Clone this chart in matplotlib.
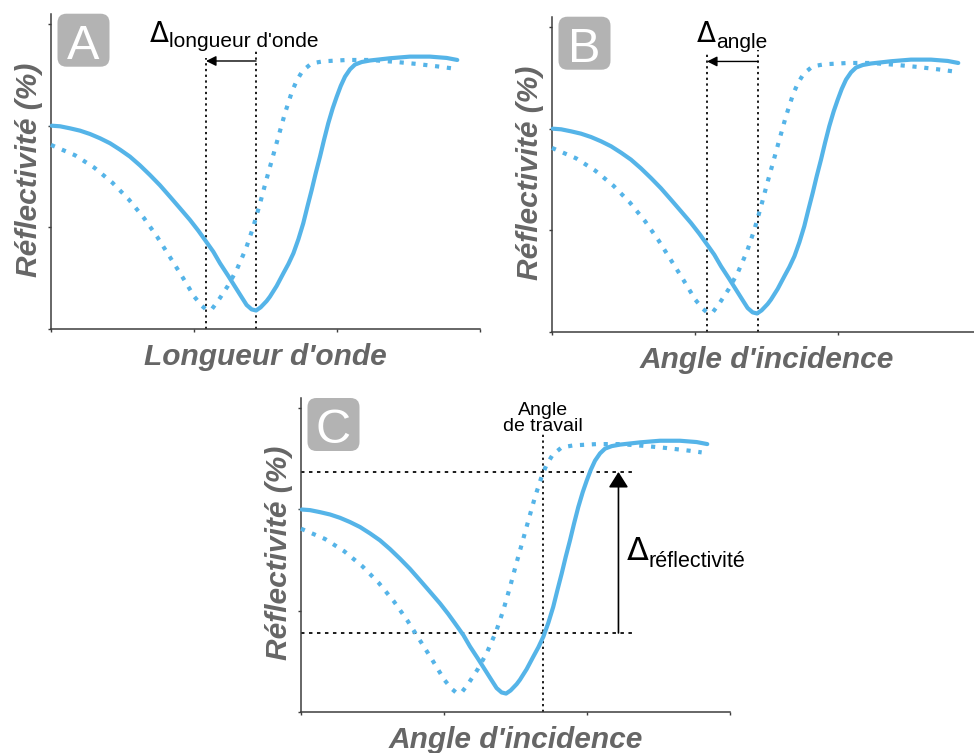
import matplotlib
matplotlib.use("Agg")
import matplotlib.pyplot as plt
from matplotlib.patches import FancyBboxPatch
from matplotlib.transforms import IdentityTransform

plt.rcParams['font.family'] = ['Liberation Sans', 'DejaVu Sans']

# ---------------- data ----------------
solid_x = [0.005, 0.063, 0.133, 0.203, 0.273, 0.343, 0.413, 0.483, 0.552, 0.622,
           0.692, 0.762, 0.832, 0.902, 0.972, 1.030, 1.077, 1.135, 1.182, 1.240,
           1.287, 1.334, 1.368, 1.403, 1.434, 1.466, 1.508, 1.531, 1.578, 1.625,
           1.660, 1.695, 1.730, 1.764, 1.793, 1.823, 1.851, 1.881, 1.909, 1.939,
           1.970, 1.998, 2.026, 2.056, 2.091, 2.126, 2.173, 2.231, 2.371, 2.510,
           2.650, 2.767, 2.841]
solid_y = [1.999, 1.993, 1.973, 1.950, 1.917, 1.875, 1.826, 1.763, 1.695, 1.609,
           1.514, 1.413, 1.301, 1.187, 1.072, 0.967, 0.875, 0.760, 0.646, 0.521,
           0.416, 0.311, 0.236, 0.193, 0.182, 0.213, 0.275, 0.318, 0.423, 0.548,
           0.639, 0.744, 0.882, 1.039, 1.203, 1.367, 1.531, 1.694, 1.858, 2.023,
           2.170, 2.284, 2.389, 2.481, 2.553, 2.600, 2.625, 2.640, 2.662, 2.678,
           2.678, 2.665, 2.645]

dotted_x = [0.0, 0.168, 0.303, 0.429, 0.545, 0.650, 0.743, 0.830, 0.918, 1.002,
            1.054, 1.089, 1.124, 1.170, 1.235, 1.298, 1.364, 1.415, 1.462, 1.503,
            1.548, 1.592, 1.636, 1.685, 1.718, 1.760, 1.823, 1.904, 2.068, 2.231,
            2.394, 2.557, 2.720, 2.802]
dotted_y = [1.810, 1.708, 1.586, 1.439, 1.272, 1.091, 0.905, 0.711, 0.514, 0.318,
            0.229, 0.187, 0.194, 0.280, 0.420, 0.580, 0.793, 1.006, 1.236, 1.452,
            1.678, 1.901, 2.121, 2.334, 2.442, 2.540, 2.612, 2.632, 2.645, 2.645,
            2.628, 2.606, 2.579, 2.563]

panel_letters = ["A", "B", "C"]
x_titles = ["Longueur d'onde", "Angle d'incidence", "Angle d'incidence"]
y_title = "Réflectivité (%)"
delta_subscripts = ["longueur d'onde", "angle", "réflectivité"]
working_angle_label = ["Angle", "de travail"]

# shift markers (data units)
min_before = [1.434, 1.441]
min_after = [1.084, 1.084]
working_angle = 1.69
refl_before = 0.78
refl_after = 2.37

# ---------------- styling ----------------
BLUE = "#55b4e8"
GREY = "#666666"
BOX = "#b3b3b3"
AXC = "#3d3d3d"
PX = 0.72  # points per pixel at 100 dpi
DELTA_FONT = ['DejaVu Sans']

W, H = 974, 753
fig = plt.figure(figsize=(W / 100, H / 100), dpi=100)


def px_axes(left, bottom, width, height):
    return fig.add_axes([left / W, 1 - bottom / H, width / W, height / H])


axA = px_axes(51, 329, 429, 315.3)
axB = px_axes(552, 332, 429, 315.3)
axC = px_axes(301, 712, 429, 314)
axes = [axA, axB, axC]

dot_black_v = dict(color="black", lw=1.25, linestyle=(0, (1.3, 2.0)), dash_capstyle="butt", zorder=2)
dot_black_h = dict(color="black", lw=1.25, linestyle=(0, (2.0, 2.6)), dash_capstyle="butt", zorder=2)

for ax, letter, xt in zip(axes, panel_letters, x_titles):
    ax.set_xlim(0, 3)
    ax.set_ylim(0, 3.1)
    ax.set_xticks([0, 1, 2, 3])
    ax.set_yticks([0, 1, 2, 3])
    ax.set_xticklabels([])
    ax.set_yticklabels([])
    ax.tick_params(direction="out", length=2.5, width=1, color=AXC)
    for s in ["top", "right"]:
        ax.spines[s].set_visible(False)
    for s in ["left", "bottom"]:
        ax.spines[s].set_color(AXC)
        ax.spines[s].set_linewidth(1.1)
    ax.patch.set_alpha(0)

    ax.plot(solid_x, solid_y, color=BLUE, lw=3, solid_capstyle="round",
            solid_joinstyle="round", zorder=3, clip_on=False)
    ax.plot(dotted_x, dotted_y, color=BLUE, lw=3, linestyle=(0, (1.0, 1.85)),
            dash_capstyle="butt", zorder=3, clip_on=False)

    ax.annotate(xt, xy=(0.5, 0), xycoords="axes fraction",
                xytext=(0, -36 * PX), textcoords="offset points",
                ha="center", va="baseline", fontsize=21.5, fontweight="bold",
                fontstyle="italic", color=GREY)
    ax.annotate(y_title, xy=(0, 0.5), xycoords="axes fraction",
                xytext=(-14 * PX, 2 * PX), textcoords="offset points",
                rotation=90, rotation_mode="anchor", ha="center", va="baseline",
                fontsize=21.5, fontweight="bold", fontstyle="italic", color=GREY)

    # panel letter box (pixel coordinates)
    bb = ax.get_position()
    x0 = bb.x0 * W + 6.5
    ytop = bb.y1 * H
    box = FancyBboxPatch((x0, ytop - 53), 52, 53,
                         boxstyle="round,pad=0,rounding_size=9",
                         transform=IdentityTransform(), facecolor=BOX,
                         edgecolor="none", zorder=5)
    fig.add_artist(box)
    fig.text(x0 + 26, ytop - 45, letter, transform=IdentityTransform(),
             ha="center", va="baseline", fontsize=35, color="white", zorder=6)

# ---- panels A and B: shift of the minimum ----
delta_pos = [(0.692, 2.822), (1.014, 2.851)]
sub_base = [2.768, 2.79]
top_left = [(2.66, 2.73), (2.75, 2.77)]
arrow_y = [2.635, 2.66]
for i, ax in enumerate([axA, axB]):
    ax.plot([min_after[i], min_after[i]], [0, top_left[i][0]], **dot_black_v)
    ax.plot([min_before[i], min_before[i]], [0, top_left[i][1]], **dot_black_v)
    ax.annotate("", xy=(min_after[i], arrow_y[i]), xytext=(min_before[i], arrow_y[i]),
                arrowprops=dict(arrowstyle="-|>,head_length=0.6,head_width=0.3",
                                mutation_scale=10, lw=1, color="black",
                                shrinkA=0, shrinkB=0), zorder=4)
    d = ax.text(delta_pos[i][0], delta_pos[i][1], "Δ", ha="left", va="baseline",
                fontsize=20, color="black", family=DELTA_FONT)
    ax.annotate(delta_subscripts[i], xy=(1, sub_base[i]), xycoords=(d, "data"),
                ha="left", va="baseline", fontsize=15, color="black")

# ---- panel C: working angle ----
axC.plot([working_angle, working_angle], [0, 2.75], **dot_black_v)
axC.plot([0, 2.34], [refl_after, refl_after], **dot_black_h)
axC.plot([0, 2.34], [refl_before, refl_before], **dot_black_h)
axC.annotate("", xy=(2.22, refl_after), xytext=(2.22, refl_before),
             arrowprops=dict(arrowstyle="-|>,head_length=0.95,head_width=0.6",
                             mutation_scale=10, lw=1.2, color="black",
                             shrinkA=0, shrinkB=0), zorder=4)
axC.text(working_angle, 2.93, working_angle_label[0], ha="center", va="baseline",
         fontsize=14, color="black")
axC.text(working_angle, 2.77, working_angle_label[1], ha="center", va="baseline",
         fontsize=14, color="black")
dC = axC.text(2.28, 1.50, "Δ", ha="left", va="baseline", fontsize=23,
              color="black", family=DELTA_FONT)
axC.annotate(delta_subscripts[2], xy=(1, 1.43), xycoords=(dC, "data"),
             ha="left", va="baseline", fontsize=15.5, color="black")

fig.savefig("out.png", dpi=100)
